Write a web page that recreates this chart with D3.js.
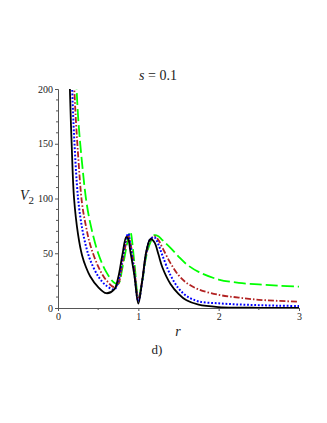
<!DOCTYPE html>
<meta charset="utf-8">
<script src="https://d3js.org/d3.v7.min.js"></script>
<style>
    body { margin: 0; background: #fff; }
    text { font-family: "Liberation Serif", "DejaVu Serif", serif; fill: #222; }
</style>
<div id="chart"></div>
<script>
    // radius grid shared by all curves
    var radius = [0.13, 0.15, 0.17, 0.2, 0.25, 0.3, 0.35, 0.4, 0.5, 0.6, 0.7, 0.75, 0.8, 0.85, 0.875, 0.9,
        0.95, 1.0, 1.05, 1.1, 1.15, 1.2, 1.25, 1.3, 1.4, 1.5, 1.6, 1.75, 2, 2.25, 2.5, 2.75, 3];

    // V2, one array per curve
    var blackV = [260, 195, 150, 100, 67, 48, 37, 29, 19, 13.5, 17, 28, 48, 65, 63, 52,
        30, 4, 26, 52, 63, 60, 49, 37, 22, 13, 7, 3, 0.8, 0.3, 0.2, 0.1, 0.1];
    var blueV = [380, 275, 215, 158, 100, 73, 56, 44, 29, 20.5, 17, 24, 44, 64, 68, 58,
        32, 6, 25, 51, 63, 64.5, 58, 48, 30, 18, 11, 6, 4.3, 3.2, 2.6, 2.1, 1.8];
    var brownV = [500, 390, 290, 205, 140, 95, 74, 58, 38, 25.5, 19, 22, 40, 60, 66, 60,
        36, 8, 26, 50, 62, 65.7, 62, 55, 41, 30, 23, 17, 12, 9.5, 7.5, 6.5, 5.8];
    var greenV = [620, 460, 360, 260, 175, 132, 99, 78, 50, 33, 23, 22, 36, 55, 64, 69.7,
        42, 10, 25, 48, 60, 66.5, 65.5, 62, 55, 47, 40, 33, 26, 23, 21.5, 20.3, 19.5];

    var xTicks = [0, 1, 2, 3];
    var yTicks = [0, 50, 100, 150, 200];

    var width = 327, height = 423;
    var plotLeft = 58, plotRight = 299, plotTop = 89, plotBottom = 308;

    var svg = d3.select("#chart").append("svg")
        .attr("width", width)
        .attr("height", height);

    var x = d3.scaleLinear().domain([0, 3]).range([plotLeft, plotRight]);
    var y = d3.scaleLinear().domain([0, 200]).range([plotBottom, plotTop]);

    svg.append("clipPath").attr("id", "plotClip")
        .append("rect")
        .attr("x", plotLeft).attr("y", plotTop)
        .attr("width", plotRight - plotLeft + 2).attr("height", plotBottom - plotTop);

    // axes
    var xAxis = svg.append("g")
        .attr("transform", "translate(0," + plotBottom + ")")
        .call(d3.axisBottom(x).tickValues(xTicks).tickFormat(d3.format("d")).tickSize(3).tickPadding(2));
    xAxis.append("g").selectAll("line")
        .data([0.5, 1.5, 2.5])
        .enter()
        .append("line")
        .attr("x1", d => x(d)).attr("x2", d => x(d))
        .attr("y1", 0).attr("y2", 2)
        .attr("stroke", "#555");

    var yAxis = svg.append("g")
        .attr("transform", "translate(" + plotLeft + ",0)")
        .call(d3.axisLeft(y).tickValues(yTicks).tickSize(3).tickPadding(2));
    yAxis.append("g").selectAll("line")
        .data(d3.range(10, 200, 10).filter(d => d % 50 != 0))
        .enter()
        .append("line")
        .attr("x1", 0).attr("x2", -2)
        .attr("y1", d => y(d)).attr("y2", d => y(d))
        .attr("stroke", "#555");

    svg.selectAll(".domain").attr("stroke", "#555");
    svg.selectAll(".tick line").attr("stroke", "#555");
    svg.selectAll(".tick text")
        .style("font-family", "Liberation Serif")
        .style("font-size", "10px")
        .attr("fill", "#222");

    // curves
    var series = [
        { values: greenV, color: "#00ff00", dash: "12,4", w: 1.8 },
        { values: brownV, color: "#b22222", dash: "6,2,1.5,2", w: 1.8 },
        { values: blueV, color: "#0000ff", dash: "1.8,1.8", w: 2 },
        { values: blackV, color: "#000000", dash: null, w: 1.8 }
    ];

    var line = d3.line()
        .x((d, i) => x(radius[i]))
        .y(d => y(d))
        .curve(d3.curveCatmullRom.alpha(0.5));

    svg.append("g")
        .attr("clip-path", "url(#plotClip)")
        .selectAll("path")
        .data(series)
        .enter()
        .append("path")
        .attr("d", d => line(d.values))
        .attr("fill", "none")
        .attr("stroke", d => d.color)
        .attr("stroke-width", d => d.w)
        .attr("stroke-dasharray", d => d.dash);

    // titles and labels
    var title = svg.append("text")
        .attr("x", 158).attr("y", 80)
        .attr("text-anchor", "middle")
        .style("font-size", "14px");
    title.append("tspan").style("font-style", "italic").text("s");
    title.append("tspan").text(" = 0.1");

    var ylab = svg.append("text")
        .attr("x", 20).attr("y", 200)
        .style("font-size", "14px");
    ylab.append("tspan").style("font-style", "italic").text("V");
    ylab.append("tspan").attr("dy", 4).style("font-size", "11px").text("2");

    svg.append("text")
        .attr("x", 178).attr("y", 336)
        .attr("text-anchor", "middle")
        .style("font-size", "14px")
        .style("font-style", "italic")
        .text("r");

    svg.append("text")
        .attr("x", 157).attr("y", 354)
        .attr("text-anchor", "middle")
        .style("font-size", "13px")
        .text("d)");
</script>
